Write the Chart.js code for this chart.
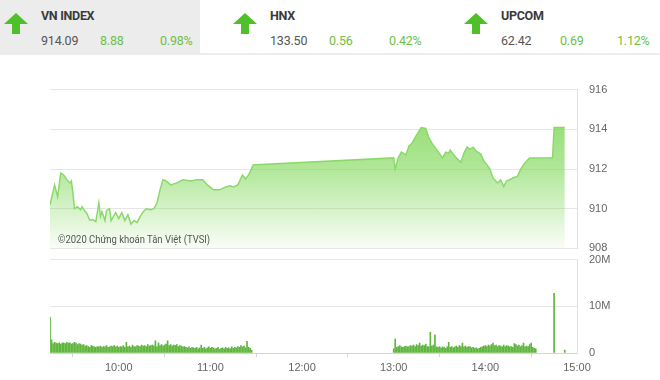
<!DOCTYPE html>
<html>
<head>
<meta charset="utf-8">
<script src="https://cdn.jsdelivr.net/npm/chart.js@4"></script>
<style>
  body { margin: 0; width: 660px; height: 380px; background: #fff; font-family: Roboto, Arial, sans-serif; position: relative; overflow: hidden; }
  .hdr { position: absolute; left: 0; top: 0; width: 660px; height: 53px; border-bottom: 2px solid #ececec; }
  .blk { position: absolute; top: 0; height: 53px; }
  .blk svg { position: absolute; left: 4px; top: 13px; }
  .ttl { position: absolute; top: 8px; font-weight: bold; font-size: 12.5px; color: #3a3a3a; letter-spacing: -0.3px; }
  .val { position: absolute; top: 33px; font-size: 12.5px; color: #555; letter-spacing: -0.2px; }
  .up { color: #6cc046; }
  .box { position: absolute; left: 0; width: 660px; }
  .copy { position: absolute; left: 58px; top: 233px; font-size: 11px; color: #555; font-family: Roboto, Arial, sans-serif; transform: scaleX(0.86); transform-origin: left top; white-space: nowrap; }
</style>
</head>
<body>
<div class="hdr"></div>
<div id="header"></div>
<div class="box" style="top:71px;height:196px"><canvas id="priceChart"></canvas></div>
<div class="box" style="top:241px;height:139px"><canvas id="volChart"></canvas></div>
<div class="copy">©2020 Chứng khoán Tân Việt (TVSI)</div>
<script>
// bảng chỉ số đầu trang
const idxNames = ['VN INDEX', 'HNX', 'UPCOM'];
const idxValues = ['914.09', '133.50', '62.42'];
const idxChanges = ['8.88', '0.56', '0.69'];
const idxPercents = ['0.98%', '0.42%', '1.12%'];

// giá VN-Index trong phiên
const priceTimes = [
  '9:15','9:18','9:20','9:22','9:24','9:26','9:28','9:29','9:30','9:31','9:33','9:35','9:36','9:38','9:39','9:41','9:43','9:45','9:47','9:48',
  '9:49','9:51','9:52','9:54','9:55','9:58','10:00','10:02','10:04','10:06','10:08','10:10','10:12','10:14','10:16','10:18','10:21','10:23','10:25','10:27',
  '10:29','10:31','10:34','10:38','10:42','10:47','10:51','10:55','10:58','11:02','11:06','11:10','11:13','11:15','11:18','11:21','11:23','11:25','11:28','11:30',
  '13:00','13:01','13:03','13:05','13:08','13:10','13:12','13:14','13:16','13:18','13:21','13:23','13:25','13:28','13:32','13:34','13:36','13:37','13:40','13:41',
  '13:44','13:46','13:48','13:50','13:52','13:54','13:57','13:59','14:01','14:03','14:05','14:08','14:10','14:12','14:14','14:16','14:18','14:21','14:23','14:25',
  '14:27','14:29','14:44','14:45','14:52'
];
const priceValues = [
  910.19,911.2,910.6,911.8,911.7,911.46,911.3,911.4,910.8,910.0,910.1,909.95,910.1,909.85,909.8,909.42,909.45,909.34,910.3,909.6,
  909.85,909.4,909.9,910.0,909.4,909.8,909.5,909.8,909.4,909.7,909.22,909.4,909.3,909.6,909.85,910.0,909.95,910.0,910.27,910.95,
  911.46,911.4,911.2,911.3,911.46,911.4,911.46,911.46,911.2,910.95,910.95,911.1,911.15,911.1,911.2,911.7,911.5,911.7,912.2,912.22,
  912.56,912.0,912.56,912.85,912.7,913.16,913.3,913.58,913.84,914.09,914.04,913.58,913.3,912.99,912.56,912.85,912.8,912.95,912.65,912.56,
  912.34,912.8,913.1,913.0,913.1,912.9,912.75,912.4,912.22,912.0,911.55,911.3,911.46,911.12,911.4,911.46,911.55,911.63,911.97,912.22,
  912.4,912.56,912.56,914.09,914.09
];

// khối lượng (triệu cp) mỗi phút
const volMorningStart = '9:15';
const volMorning = [
  7.7,2.8,2.0,2.3,2.1,2.0,2.2,1.9,2.1,2.2,2.0,2.3,2.1,2.2,1.9,2.0,2.3,2.1,1.8,2.0,
  1.9,1.7,1.8,1.5,1.6,1.4,1.2,1.6,1.5,1.3,1.2,1.4,1.3,1.5,1.2,1.4,1.3,1.6,1.2,1.3,
  1.5,1.4,1.6,1.3,1.5,1.2,1.4,1.3,1.6,1.2,2.3,1.3,1.5,1.2,1.7,1.4,1.3,1.6,1.5,1.4,
  1.7,1.5,1.6,1.4,1.8,1.5,1.6,1.7,1.5,2.6,1.4,2.2,1.6,1.8,1.5,1.7,1.9,2.6,1.6,1.8,
  1.5,1.7,1.6,1.8,1.4,1.6,1.5,1.3,1.4,1.2,1.1,1.3,1.0,1.2,1.1,1.0,1.2,0.9,1.1,1.7,
  1.0,1.2,0.9,1.1,1.3,1.0,1.2,1.1,0.9,1.0,1.2,0.8,1.0,1.1,0.9,1.2,1.0,1.1,0.9,1.3,
  1.0,1.2,1.1,1.4,1.2,1.6,1.3,1.5,1.1,2.5,1.2,1.0,0.6
];
const volAfternoonStart = '13:00';
const volAfternoon = [
  0.9,3.0,1.2,1.4,1.6,1.3,1.2,1.4,1.5,1.3,1.4,1.6,1.5,1.7,1.4,1.8,1.6,2.1,1.5,1.7,
  1.6,1.9,1.4,1.3,4.4,1.5,1.7,3.9,1.3,1.2,1.4,1.1,1.3,1.2,1.0,1.3,2.3,1.2,1.4,1.1,
  1.3,1.5,1.2,1.6,1.4,2.1,1.3,1.5,1.2,1.4,1.3,1.1,1.2,1.0,1.1,0.9,1.0,1.2,1.3,1.5,
  1.6,1.4,1.7,1.5,1.8,2.1,1.6,1.7,1.4,1.6,1.5,1.3,1.7,1.4,1.6,1.5,1.3,1.4,1.2,2.0,
  1.8,1.5,1.7,1.4,1.6,2.1,1.3,1.5,1.4,1.8,2.1,1.2,1.0,0.9
];
const volExtraTimes = ['14:45', '14:52'];
const volExtraValues = [12.8, 0.6];

const xTickLabels = ['10:00', '11:00', '12:00', '13:00', '14:00', '15:00'];
const priceTicks = [908, 910, 912, 914, 916];
const volTicks = [0, 10, 20];
const volTickLabels = ['0', '10M', '20M'];

const xMinTime = '9:15';
const xMaxTime = '15:00';

function toMin(t) {
  const [h, m] = t.split(':').map(Number);
  return h * 60 + m;
}
function fmtMin(v) {
  const h = Math.floor(v / 60), m = v % 60;
  return h + ':' + (m < 10 ? '0' : '') + m;
}

// dựng header
const arrowSvg = '<svg width="24" height="21" viewBox="0 0 24 21"><polygon points="12,0 24,11 16,11 16,21 8,21 8,11 0,11" fill="#4fbf2a"/></svg>';
const blockLeft = [0, 229, 460];
const header = document.getElementById('header');
idxNames.forEach((name, i) => {
  const b = document.createElement('div');
  b.className = 'blk';
  b.style.left = blockLeft[i] + 'px';
  b.style.width = '200px';
  if (i === 0) b.style.background = '#ececec';
  b.innerHTML = arrowSvg +
    '<div class="ttl" style="left:41px">' + name + '</div>' +
    '<div class="val" style="left:41px">' + idxValues[i] + '</div>' +
    '<div class="val up" style="left:100px">' + idxChanges[i] + '</div>' +
    '<div class="val up" style="left:' + (i === 2 ? 157 : 160) + 'px">' + idxPercents[i] + '</div>';
  header.appendChild(b);
});

Chart.defaults.font.family = 'Arial, "Liberation Sans", sans-serif';
Chart.defaults.font.size = 11;
Chart.defaults.color = '#666';

const xMin = toMin(xMinTime), xMax = toMin(xMaxTime);

// biểu đồ giá
const pricePoints = priceTimes.map((t, i) => ({ x: toMin(t), y: priceValues[i] }));
new Chart(document.getElementById('priceChart'), {
  type: 'line',
  data: {
    datasets: [{
      data: pricePoints,
      borderColor: '#8cd96b',
      borderWidth: 1.5,
      pointRadius: 0,
      tension: 0,
      fill: 'start',
      backgroundColor: (ctx) => {
        const a = ctx.chart.chartArea;
        if (!a) return 'rgba(125,215,85,0.5)';
        const g = ctx.chart.ctx.createLinearGradient(0, a.top, 0, a.bottom);
        g.addColorStop(0, 'rgba(125,215,85,0.95)');
        g.addColorStop(0.5, 'rgba(125,215,85,0.6)');
        g.addColorStop(1, 'rgba(125,215,85,0.04)');
        return g;
      }
    }]
  },
  options: {
    responsive: true,
    maintainAspectRatio: false,
    animation: false,
    layout: { padding: { left: 50, top: 0, bottom: 0, right: 0 } },
    plugins: { legend: { display: false }, tooltip: { enabled: false } },
    scales: {
      x: { type: 'linear', min: xMin, max: xMax, display: false },
      y: {
        position: 'right',
        min: 908, max: 916,
        afterBuildTicks: (s) => { s.ticks = priceTicks.map(v => ({ value: v })); },
        afterFit: (s) => { s.width = 83; },
        grid: { color: '#e6e6e6', drawTicks: false },
        border: { display: true, color: '#e0e0e0' },
        ticks: { padding: 12, color: '#666' }
      }
    }
  }
});

// biểu đồ khối lượng
const volPoints = [];
volMorning.forEach((v, i) => volPoints.push({ x: toMin(volMorningStart) + i, y: v }));
volAfternoon.forEach((v, i) => volPoints.push({ x: toMin(volAfternoonStart) + i, y: v }));
volExtraTimes.forEach((t, i) => volPoints.push({ x: toMin(t), y: volExtraValues[i] }));

new Chart(document.getElementById('volChart'), {
  type: 'bar',
  data: {
    datasets: [{
      data: volPoints,
      backgroundColor: '#5fb53e',
      barThickness: 1,
      borderWidth: 0
    }]
  },
  options: {
    responsive: true,
    maintainAspectRatio: false,
    animation: false,
    layout: { padding: { left: 50, top: 0, bottom: 0, right: 0 } },
    plugins: { legend: { display: false }, tooltip: { enabled: false } },
    scales: {
      x: {
        type: 'linear', min: xMin, max: xMax, offset: false,
        afterBuildTicks: (s) => { s.ticks = xTickLabels.map(t => ({ value: toMin(t) })); },
        afterFit: (s) => { s.height = 27; },
        grid: { drawOnChartArea: false, drawTicks: true, tickLength: 4, color: '#ccd6eb' },
        border: { display: true, color: '#ccd6eb' },
        ticks: { padding: 4, color: '#666', maxRotation: 0, callback: (v) => fmtMin(v) }
      },
      y: {
        position: 'right',
        min: 0, max: 20,
        afterBuildTicks: (s) => { s.ticks = volTicks.map(v => ({ value: v })); },
        afterFit: (s) => { s.width = 83; },
        grid: { color: '#e6e6e6', drawTicks: false },
        border: { display: true, color: '#e0e0e0' },
        ticks: { padding: 12, color: '#666', callback: (v) => volTickLabels[volTicks.indexOf(v)] }
      }
    }
  }
});
</script>
</body>
</html>
